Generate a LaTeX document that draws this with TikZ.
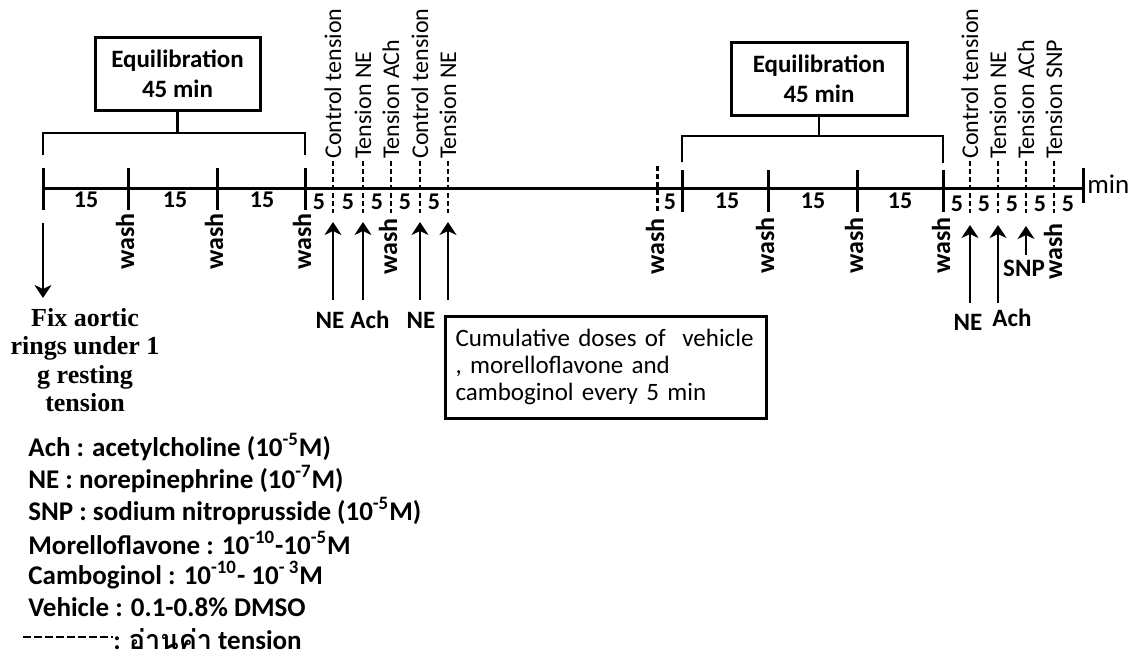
\documentclass[tikz,border=0pt]{standalone}
\usepackage{fontspec}
\setmainfont{Carlito}
\newfontfamily\serifbold{Liberation Serif}
\newfontfamily\thaifont[Script=Thai]{Loma}
\usetikzlibrary{arrows.meta}

\tikzset{
  heavy/.style={line width=1.5pt},
  bracketline/.style={line width=1.3pt},
  readline/.style={line width=1pt, dash pattern=on 2.5pt off 1.5pt},
  washdash/.style={line width=1.5pt, dash pattern=on 2.5pt off 1.5pt},
  legenddash/.style={line width=1pt, dash pattern=on 4pt off 1.5pt},
  eqbox/.style={draw, line width=1.5pt, minimum width=82.5pt, minimum height=36.5pt,
    align=center, font=\bfseries\fontsize{12.5}{15}\selectfont},
  dosebox/.style={draw, line width=1.5pt, minimum width=160.5pt, minimum height=51pt,
    text width=150pt, align=left, font=\fontsize{12.5}{13.5}\selectfont},
  vlabel/.style={rotate=90, anchor=west, inner sep=1pt, font=\fontsize{12}{13}\selectfont},
  washlabel/.style={rotate=90, anchor=east, inner sep=0pt, font=\bfseries\fontsize{13}{15}\selectfont},
  numlabel/.style={inner sep=0pt, font=\bfseries\fontsize{12}{13}\selectfont},
  druglabel/.style={inner sep=0pt, font=\bfseries\fontsize{12.5}{14}\selectfont},
  fixlabel/.style={inner sep=0pt, align=center, font=\serifbold\bfseries\fontsize{13}{14.3}\selectfont},
  legendline/.style={anchor=west, inner sep=0pt, font=\bfseries\fontsize{13.5}{15}\selectfont},
  dose/.style={line width=1.3pt, -{Stealth[length=6.5pt, width=8.5pt, inset=2pt]}},
}

\begin{document}
\begin{tikzpicture}[x=0.5pt,y=-0.5pt]
    \useasboundingbox (0,0) rectangle (1132,666);

    % equilibration boxes and brackets
    \node[eqbox] (eq1) at (177.5,73.5) {Equilibration\\45 min};
    \node[eqbox, minimum width=88pt] (eq2) at (819,78.5) {Equilibration\\45 min};
    \coordinate (b1l) at (43,155);
    \coordinate (b1r) at (305,155);
    \coordinate (b2l) at (682,162);
    \coordinate (b2r) at (943,163);
    \draw[bracketline] (b1l) -- ++(0,-22) coordinate (b1m) -| (b1r);
    \draw[bracketline] (b2l) -- ++(0,-26) coordinate (b2m) -| (b2r);
    \draw[bracketline] (eq1.south) -- (eq1.south |- b1m);
    \draw[bracketline] (eq2.south) -- (eq2.south |- b2m);

    % time axis
    \coordinate (t0) at (42,188);
    \coordinate (tend) at (1083,188);
    \draw[heavy] (t0) -- (tend);
    \foreach \x in {43,128,217,305} {
        \draw[heavy] (\x,168) -- (\x,210);
    }
    \foreach \x in {682,768,857,943} {
        \draw[heavy] (\x,170) -- (\x,212);
    }
    \draw[heavy] (1083,168) -- (1083,203);
    \draw[washdash] (657,166) -- (657,213);
    \node[anchor=west, inner sep=0pt, font=\fontsize{13.5}{15}\selectfont] (unit) at (1087,184) {min};

    \foreach \x/\y/\t [count=\i] in {86/200/15,175/200/15,262/200/15,319/202/5,348/202/5,
        377/202/5,405/202/5,434/202/5,670/202/5,727/201/15,813/201/15,900/201/15,
        957/204/5,984/204/5,1012/204/5,1040/204/5,1068/204/5} {
        \node[numlabel] (m\i) at (\x,\y) {\t};
    }

    % tension readings
    \foreach \x/\t [count=\i] in {333/Control tension,363/Tension NE,391/Tension ACh,
        420/Control tension,448/Tension NE,970/Control tension,998/Tension NE,
        1026/Tension ACh,1054/Tension SNP} {
        \node[vlabel] (r\i) at (\x,161) {\t};
        \coordinate (rb\i) at (\x,213);
        \draw[readline] (r\i.west) -- (rb\i);
    }

    % washes
    \foreach \x/\y [count=\i] in {125/213,214/213,302/213,388/218,655/218,
        765/217,854/217,941/217,1053/223} {
        \node[washlabel] (w\i) at (\x,\y) {wash};
    }

    % drugs added
    \foreach \x/\a/\b [count=\i] in {333/300/222,363/300/222,420/300/222,448/300/222,
        970/303/225,998/303/225,1026/255/226} {
        \coordinate (da\i) at (\x,\a);
        \coordinate (db\i) at (\x,\b);
        \draw[dose] (da\i) -- (db\i);
    }
    \foreach \x/\y/\t [count=\i] in {330/320/NE,370/320/Ach,421/320/NE,
        968/322/NE,1012/318/Ach,1024/268/SNP} {
        \node[druglabel] (g\i) at (\x,\y) {\t};
    }

    \coordinate (fixa) at (43,223);
    \coordinate (fixb) at (43,298);
    \draw[dose] (fixa) -- (fixb);
    \node[fixlabel] (fix) at (85,360) {Fix aortic\\rings under 1\\g resting\\tension};

    \node[dosebox] (cum) at (605.5,367) {Cumulative doses of~ vehicle\\, morelloflavone and\\camboginol every 5 min};

    % legend
    \foreach \y/\t [count=\i] in {447/{Ach : acetylcholine (10\textsuperscript{-5}M)},
        479/{NE : norepinephrine (10\textsuperscript{-7}M)},
        511/{SNP : sodium nitroprusside (10\textsuperscript{-5}M)},
        543/{Morelloflavone : 10\textsuperscript{-10}-10\textsuperscript{-5}M},
        575/{Camboginol : 10\textsuperscript{-10}- 10\textsuperscript{- 3}M},
        607/{Vehicle : 0.1-0.8\% DMSO}} {
        \node[legendline] (lg\i) at (28,\y) {\t};
    }
    \coordinate (lga) at (23,637);
    \coordinate (lgb) at (113,637);
    \draw[legenddash] (lga) -- (lgb);
    \node[legendline] (lgr) at (113,639) {: {\thaifont อ่านค่า} tension};
\end{tikzpicture}
\end{document}
